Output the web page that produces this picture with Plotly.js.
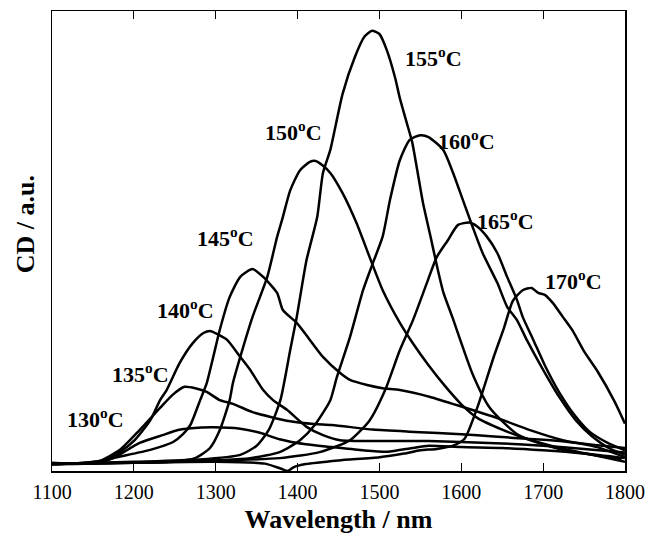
<!DOCTYPE html>
<html>
<head>
<meta charset="utf-8">
<script src="https://cdn.plot.ly/plotly-3.0.1.min.js"></script>
<style>html,body{margin:0;padding:0;background:#fff;}#chart{width:648px;height:534px;}</style>
</head>
<body>
<div id="chart"></div>
<script>
// Temperatures (series names)
const temps = ["130", "135", "140", "145", "150", "155", "160", "165", "170"];

// Wavelength (nm) and CD (a.u.) for each temperature
const wl130 = [1100,1130,1160,1175,1207,1235,1254,1270,1297,1330,1354,1378,1410,1442,1480,1510,1540,1560,1600,1650,1700,1750,1800];
const cd130 = [1.8,1.5,2.0,2.8,6.1,7.8,8.9,9.3,9.5,9.2,8.3,6.9,5.8,5.2,4.5,4.2,5.0,5.5,5.2,5.0,4.5,3.8,2.8];

const wl135 = [1100,1140,1158,1183,1207,1232,1247,1262,1275,1289,1305,1321,1345,1366,1391,1420,1442,1492,1543,1600,1640,1680,1720,1760,1800];
const cd135 = [1.5,1.8,2.2,4.6,8.9,13.7,16.5,18.3,18.0,17.2,15.4,14.6,12.8,11.8,10.8,10.2,10.0,9.0,8.5,8.0,7.5,7.0,6.5,5.7,5.0];

const wl140 = [1100,1140,1165,1183,1201,1220,1232,1240,1256,1272,1285,1294,1305,1314,1330,1342,1358,1370,1387,1411,1431,1452,1500,1560,1600,1650,1700,1750,1800];
const cd140 = [1.5,1.8,2.4,4.1,6.7,11.0,15.4,17.6,23.5,27.8,30.0,30.4,29.5,28.5,24.8,22.0,17.6,15.4,13.3,9.6,7.8,6.7,6.5,6.5,6.3,6.0,5.5,4.8,4.0];

const wl145 = [1100,1150,1179,1220,1248,1260,1269,1281,1289,1297,1305,1317,1330,1345,1358,1375,1382,1399,1415,1431,1452,1464,1485,1504,1525,1562,1602,1644,1684,1724,1766,1800];
const cd145 = [1.5,1.8,3.0,4.6,6.3,8.0,10.0,15.4,19.1,24.8,30.7,37.8,42.2,43.9,42.2,38.7,35.0,32.2,28.5,24.8,21.3,19.8,18.7,18.0,17.6,16.1,13.9,11.5,8.9,6.7,5.2,3.0];

const wl150 = [1100,1200,1244,1275,1293,1305,1317,1321,1330,1345,1363,1375,1382,1391,1403,1415,1422,1430,1440,1455,1472,1488,1504,1525,1540,1560,1580,1600,1620,1650,1680,1720,1760,1800];
const cd150 = [1.5,1.8,2.0,2.8,5.0,8.9,15.4,19.1,24.8,33.5,42.2,50.9,55.2,61.0,65.4,67.2,67.4,66.5,64.8,60.4,53.9,46.5,39.3,32.2,28.0,23.0,18.5,14.5,11.5,9.0,7.0,5.0,3.5,2.0];

const wl155 = [1100,1200,1280,1330,1350,1365,1379,1391,1399,1411,1424,1431,1440,1455,1470,1482,1491,1500,1509,1519,1525,1534,1540,1546,1553,1562,1570,1578,1589,1614,1635,1670,1720,1796];
const cd155 = [1.5,2.0,2.5,3.5,5.5,9.0,15.4,26.3,33.5,45.9,55.2,64.8,69.8,82.0,90.0,94.5,95.7,95.0,91.5,85.6,81.0,75.3,71.5,65.6,58.5,51.3,44.8,38.9,33.5,21.0,13.7,7.8,4.8,2.6];

const wl160 = [1100,1250,1342,1378,1403,1421,1440,1448,1464,1480,1492,1504,1513,1525,1537,1550,1560,1578,1590,1602,1614,1626,1644,1656,1668,1680,1700,1720,1740,1760,1780,1800];
const cd160 = [1.5,2.0,2.8,4.1,6.7,10.0,15.4,20.4,29.1,39.3,45.2,51.0,59.0,67.6,72.0,73.0,72.6,69.8,64.8,58.9,53.0,47.4,40.9,35.7,32.8,28.5,22.0,16.0,11.0,7.5,5.0,3.5];

const wl165 = [1100,1250,1378,1427,1464,1488,1507,1525,1541,1558,1570,1583,1596,1610,1619,1631,1644,1656,1668,1675,1688,1702,1720,1739,1757,1780,1800];
const cd165 = [1.5,2.0,2.8,4.1,6.7,11.0,17.6,26.3,32.8,40.9,46.5,50.0,53.5,54.0,53.2,51.0,47.4,42.2,37.2,33.5,28.5,23.0,17.0,12.0,8.5,6.0,4.5];

const wl170 = [1100,1200,1300,1360,1380,1388,1395,1410,1450,1500,1530,1550,1570,1590,1604,1620,1640,1652,1663,1675,1686,1694,1702,1712,1724,1736,1750,1766,1787,1800];
const cd170 = [1.5,1.8,2.0,1.6,0.5,0.0,0.8,1.5,2.3,3.0,3.8,4.5,4.8,5.5,7.0,14.0,25.0,31.0,37.0,39.3,39.8,38.7,38.3,36.5,33.5,30.5,26.0,21.8,15.2,10.3];

const wls = [wl130, wl135, wl140, wl145, wl150, wl155, wl160, wl165, wl170];
const cds = [cd130, cd135, cd140, cd145, cd150, cd155, cd160, cd165, cd170];

// Curve label anchor points (wavelength, CD)
const labelX = [1116, 1171, 1226, 1275, 1358, 1529, 1569, 1617, 1700];
const labelY = [11.5, 21.3, 35.2, 50.9, 73.9, 90.0, 72.0, 54.6, 41.5];

const serif = "Liberation Serif, Times New Roman, serif";

const traces = temps.map((t, i) => ({
  x: wls[i], y: cds[i], type: "scatter", mode: "lines", name: t + " °C",
  line: {color: "#000", width: 2.5, shape: "spline", smoothing: 0.6},
  hoverinfo: "x+y+name"
}));

const annotations = temps.map((t, i) => ({
  x: labelX[i], y: labelY[i], xref: "x", yref: "y",
  text: t + "<sup>o</sup>C", showarrow: false,
  xanchor: "left", yanchor: "middle",
  font: {family: serif, size: 22, color: "#000", weight: "bold"}
}));

annotations.push({
  xref: "paper", yref: "paper", x: -0.045, y: 0.537,
  text: "CD / a.u.", textangle: -90, showarrow: false,
  xanchor: "center", yanchor: "middle",
  font: {family: serif, size: 26, color: "#000", weight: "bold"}
});

const layout = {
  width: 648, height: 534,
  margin: {l: 52, r: 23, t: 11, b: 63},
  paper_bgcolor: "#fff", plot_bgcolor: "#fff",
  showlegend: false,
  xaxis: {
    range: [1100, 1800], tickvals: [1100,1200,1300,1400,1500,1600,1700,1800],
    ticks: "inside", ticklen: 8, tickwidth: 1.2, tickcolor: "#000",
    showline: true, linecolor: "#000", linewidth: 1.5, mirror: "ticks",
    showgrid: false, zeroline: false,
    tickfont: {family: serif, size: 20, color: "#000"},
    ticklabelstandoff: 2,
    title: {text: "Wavelength / nm", font: {family: serif, size: 26, color: "#000", weight: "bold"}, standoff: 9}
  },
  yaxis: {
    range: [0, 100], showticklabels: false, ticks: "",
    showline: true, linecolor: "#000", linewidth: 1.5, mirror: true,
    showgrid: false, zeroline: false
  },
  annotations: annotations
};

Plotly.newPlot("chart", traces, layout, {staticPlot: true, displayModeBar: false});
</script>
</body>
</html>
